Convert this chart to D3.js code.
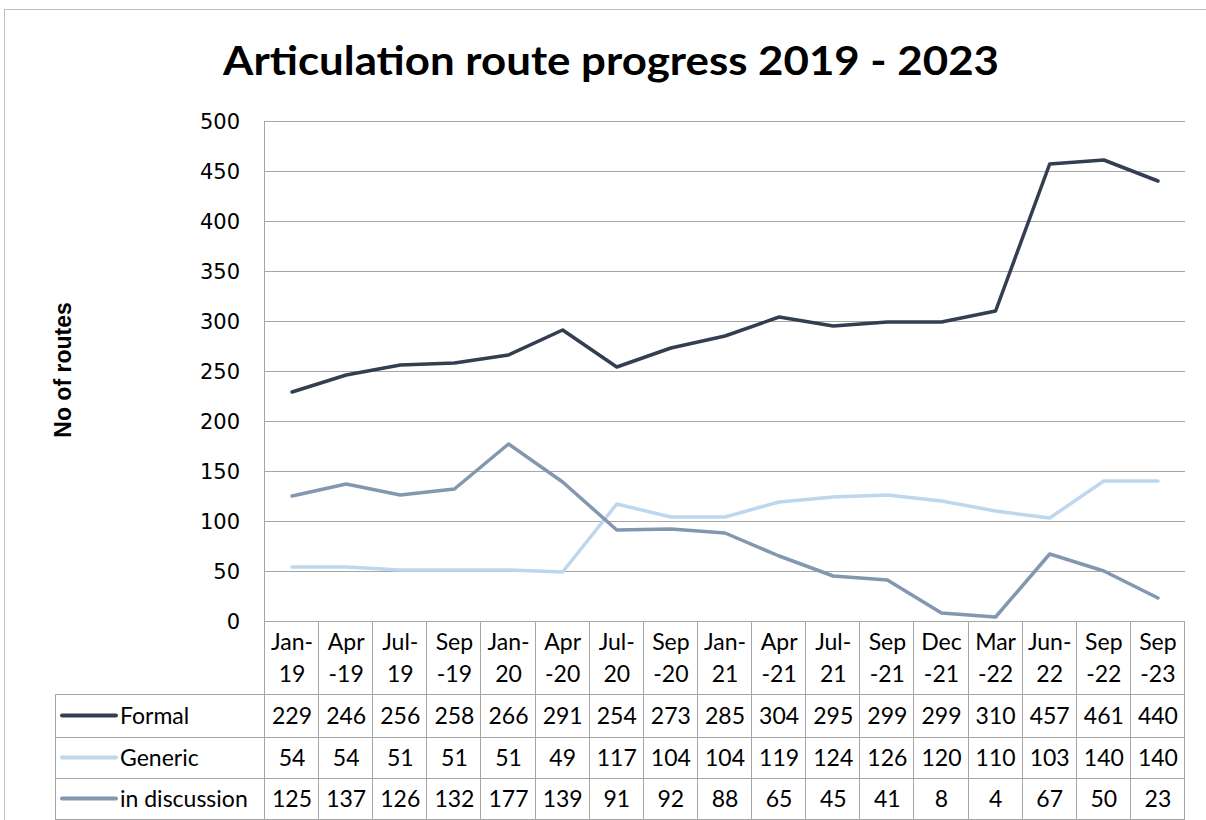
<!DOCTYPE html>
<meta charset="utf-8">
<script src="https://d3js.org/d3.v7.min.js"></script>
<style>
  body { margin: 0; background: #fff; }
  text { font-family: Lato, "Open Sans", sans-serif; fill: #000; }
</style>
<div id="chart"></div>
<script>

// categories, split the way the data table wraps them
const months = ["Jan-19","Apr-19","Jul-19","Sep-19","Jan-20","Apr-20","Jul-20","Sep-20","Jan-21",
  "Apr-21","Jul-21","Sep-21","Dec-21","Mar-22","Jun-22","Sep-22","Sep-23"];
const monthLines = [["Jan-","19"],["Apr","-19"],["Jul-","19"],["Sep","-19"],["Jan-","20"],["Apr","-20"],
  ["Jul-","20"],["Sep","-20"],["Jan-","21"],["Apr","-21"],["Jul-","21"],["Sep","-21"],["Dec","-21"],
  ["Mar","-22"],["Jun-","22"],["Sep","-22"],["Sep","-23"]];

const formal       = [229,246,256,258,266,291,254,273,285,304,295,299,299,310,457,461,440];
const generic      = [54,54,51,51,51,49,117,104,104,119,124,126,120,110,103,140,140];
const inDiscussion = [125,137,126,132,177,139,91,92,88,65,45,41,8,4,67,50,23];

const seriesNames  = ["Formal","Generic","in discussion"];
const seriesColors = ["#333f50","#bdd7ee","#8497b0"];
const yTicks = [0,50,100,150,200,250,300,350,400,450,500];

const series = [formal, generic, inDiscussion].map((vals, i) => ({
  name: seriesNames[i], color: seriesColors[i], values: vals
}));

const W = 1206, H = 820;
const plot = {left: 265, right: 1185, top: 121, bottom: 621};
const tableLeft = 55;
const rowEdges = [621, 694, 737, 778, 819];  // header, Formal, Generic, in discussion
const gridColor = "#a6a6a6";
const tableFont = "23px";

const svg = d3.select("#chart").append("svg")
  .attr("width", W).attr("height", H);

// chart border
svg.append("rect")
  .attr("x", 4.5).attr("y", 9.5).attr("width", W + 10).attr("height", H + 10)
  .attr("fill", "none").attr("stroke", "#bfbfbf").attr("stroke-width", 1);

// title
svg.append("text")
  .attr("x", 611).attr("y", 75)
  .attr("text-anchor", "middle")
  .attr("textLength", 776).attr("lengthAdjust", "spacingAndGlyphs")
  .style("font-size", "40px").style("font-weight", "bold")
  .text("Articulation route progress 2019 - 2023");

const x = d3.scaleBand().domain(months).range([plot.left, plot.right]);
const y = d3.scaleLinear().domain([0, 500]).range([plot.bottom, plot.top]);

// gridlines
svg.append("g").selectAll("line")
  .data(yTicks)
  .join("line")
    .attr("x1", plot.left).attr("x2", plot.right)
    .attr("y1", d => Math.round(y(d)) + 0.5).attr("y2", d => Math.round(y(d)) + 0.5)
    .attr("stroke", gridColor);

// y axis labels
const yAxis = svg.append("g")
  .attr("transform", `translate(${plot.left},0)`)
  .call(d3.axisLeft(y).tickValues(yTicks).tickSize(0).tickPadding(25));
yAxis.select(".domain").remove();
yAxis.selectAll("text")
  .style("font-family", "'DejaVu Sans', sans-serif")
  .style("font-size", "21px")
  .attr("dy", "0.36em");

svg.append("text")
  .attr("transform", "translate(71,370) rotate(-90)")
  .attr("text-anchor", "middle")
  .style("font-family", "'Liberation Sans', Arial, sans-serif")
  .style("font-size", "23px").style("font-weight", "bold")
  .text("No of routes");

// data table
const table = svg.append("g");
const colEdges = months.map(m => x(m)).concat([plot.right]);

// horizontal table lines
rowEdges.forEach((ry, i) => {
  table.append("line")
    .attr("x1", i === 0 ? plot.left : tableLeft).attr("x2", plot.right)
    .attr("y1", ry + 0.5).attr("y2", ry + 0.5)
    .attr("stroke", gridColor);
});
// left edge of the table
table.append("line")
  .attr("x1", tableLeft + 0.5).attr("x2", tableLeft + 0.5)
  .attr("y1", rowEdges[1]).attr("y2", rowEdges[4])
  .attr("stroke", gridColor);
// vertical column lines
colEdges.forEach((cx, i) => {
  table.append("line")
    .attr("x1", Math.round(cx) - 0.5).attr("x2", Math.round(cx) - 0.5)
    .attr("y1", i === 0 ? plot.top : rowEdges[0]).attr("y2", rowEdges[4])
    .attr("stroke", gridColor);
});

// category labels (two lines)
months.forEach((m, i) => {
  const cx = x(m) + x.bandwidth() / 2;
  monthLines[i].forEach((t, j) => {
    table.append("text")
      .attr("x", cx).attr("y", 650 + j * 32)
      .attr("text-anchor", "middle")
      .style("font-size", tableFont)
      .text(t);
  });
});

// values + legend keys
series.forEach((s, r) => {
  const cy = (rowEdges[r + 1] + rowEdges[r + 2]) / 2;
  table.append("line")
    .attr("x1", 62).attr("x2", 116)
    .attr("y1", cy).attr("y2", cy)
    .attr("stroke", s.color).attr("stroke-width", 4).attr("stroke-linecap", "round");
  table.append("text")
    .attr("x", 120).attr("y", cy).attr("dy", "0.36em")
    .style("font-size", tableFont)
    .text(s.name);
  s.values.forEach((v, i) => {
    table.append("text")
      .attr("x", x(months[i]) + x.bandwidth() / 2).attr("y", cy).attr("dy", "0.36em")
      .attr("text-anchor", "middle")
      .style("font-size", tableFont)
      .text(v);
  });
});

// lines
const line = d3.line()
  .x((d, i) => x(months[i]) + x.bandwidth() / 2)
  .y(d => y(d));

svg.append("g").selectAll("path")
  .data(series)
  .join("path")
    .attr("d", d => line(d.values))
    .attr("fill", "none")
    .attr("stroke", d => d.color)
    .attr("stroke-width", 3.5)
    .attr("stroke-linejoin", "round")
    .attr("stroke-linecap", "round");

</script>
